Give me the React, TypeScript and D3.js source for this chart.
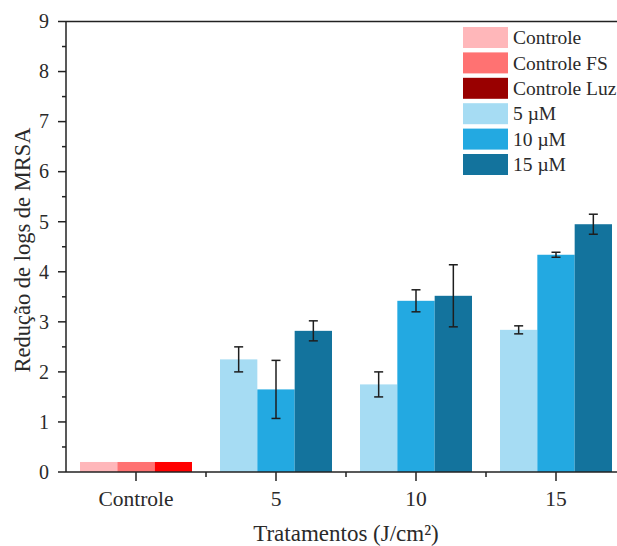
import React from "react";
import * as d3 from "d3";

// Treatment groups along the x axis
const categories = ["Controle", "5", "10", "15"];

// Control group bars (single group, three controls)
const controlNames = ["Controle", "Controle FS", "Controle Luz"];
const controlValues = [0.2, 0.2, 0.2];
const controlBarColors = ["#FFB7BA", "#FF7272", "#FF0000"];
const controlLegendColors = ["#FFB7BA", "#FF7272", "#990000"];

// Concentration series for the light-dose groups (5, 10, 15 J/cm²)
const concNames = ["5 µM", "10 µM", "15 µM"];
const concColors = ["#A6DCF3", "#23A9E1", "#13739D"];
const mean5uM = [2.25, 1.75, 2.84];
const mean10uM = [1.65, 3.42, 4.34];
const mean15uM = [2.82, 3.52, 4.95];
const err5uM = [0.25, 0.25, 0.08];
const err10uM = [0.58, 0.22, 0.05];
const err15uM = [0.2, 0.62, 0.2];

const yTicks = [0, 1, 2, 3, 4, 5, 6, 7, 8, 9];

const W = 617;
const H = 546;
const left = 66;
const top = 21.5;
const bottom = 472;
const step = 140;

const textColor = "#2a2a2a";
const axisColor = "#222";
const font = "Liberation Serif, Times New Roman, serif";
const textStyle = { fontFamily: font };

export default function App() {
  const x = d3
    .scaleBand<string>()
    .domain(categories)
    .range([left, left + step * categories.length])
    .paddingInner(0.2)
    .paddingOuter(0.1);
  const y = d3.scaleLinear().domain([0, 9]).range([bottom, top]);
  const sub = d3
    .scaleBand<number>()
    .domain([0, 1, 2])
    .range([0, x.bandwidth()]);

  const concMeans = [mean5uM, mean10uM, mean15uM];
  const concErrs = [err5uM, err10uM, err15uM];
  const doseCats = categories.slice(1);

  const minorY = d3.range(0.5, 9, 1);
  const minorX = categories.slice(1).map((c) => (x(c) as number) - (step * 0.2) / 2);

  const legendItems = [
    ...controlNames.map((n, i) => ({ name: n, color: controlLegendColors[i] })),
    ...concNames.map((n, i) => ({ name: n, color: concColors[i] })),
  ];

  return (
    <svg
      width={W}
      height={H}
      style={{ position: "absolute", left: 0, top: 0, background: "#fff" }}
    >
      <rect width={W} height={H} fill="#fff" />

      {/* control bars */}
      {controlValues.map((v, i) => (
        <rect
          key={"c" + i}
          x={(x("Controle") as number) + (sub(i) as number)}
          y={y(v)}
          width={sub.bandwidth()}
          height={y(0) - y(v)}
          fill={controlBarColors[i]}
        />
      ))}

      {/* concentration bars */}
      {doseCats.map((c, gi) =>
        concMeans.map((series, si) => {
          const v = series[gi];
          return (
            <rect
              key={c + "-" + si}
              x={(x(c) as number) + (sub(si) as number)}
              y={y(v)}
              width={sub.bandwidth()}
              height={y(0) - y(v)}
              fill={concColors[si]}
            />
          );
        })
      )}

      {/* error bars */}
      {doseCats.map((c, gi) =>
        concMeans.map((series, si) => {
          const v = series[gi];
          const e = concErrs[si][gi];
          const cx = (x(c) as number) + (sub(si) as number) + sub.bandwidth() / 2;
          const y1 = y(v + e);
          const y2 = y(v - e);
          return (
            <g key={"e" + c + si} stroke="#1e1e1e" strokeWidth={1.5}>
              <line x1={cx} x2={cx} y1={y1} y2={y2} />
              <line x1={cx - 4.5} x2={cx + 4.5} y1={y1} y2={y1} />
              <line x1={cx - 4.5} x2={cx + 4.5} y1={y2} y2={y2} />
            </g>
          );
        })
      )}

      {/* frame lines */}
      <line x1={left} x2={W} y1={top} y2={top} stroke={axisColor} strokeWidth={1.5} />
      <line x1={left} x2={W} y1={bottom} y2={bottom} stroke={axisColor} strokeWidth={1.5} />
      <line x1={left} x2={left} y1={top} y2={bottom} stroke={axisColor} strokeWidth={1.5} />

      {/* y ticks */}
      {yTicks.map((t) => (
        <g key={"yt" + t}>
          <line x1={left - 8} x2={left} y1={y(t)} y2={y(t)} stroke={axisColor} strokeWidth={1.5} />
          <text
            x={49}
            y={y(t)}
            dy="0.34em"
            textAnchor="end"
            fontSize={20}
            fill={textColor}
            style={textStyle}
          >
            {t}
          </text>
        </g>
      ))}
      {minorY.map((t) => (
        <line
          key={"my" + t}
          x1={left - 4}
          x2={left}
          y1={y(t)}
          y2={y(t)}
          stroke={axisColor}
          strokeWidth={1.5}
        />
      ))}

      {/* x ticks */}
      {categories.map((c) => {
        const cx = (x(c) as number) + x.bandwidth() / 2;
        return (
          <g key={"xt" + c}>
            <line x1={cx} x2={cx} y1={bottom} y2={bottom + 9} stroke={axisColor} strokeWidth={1.5} />
            <text x={cx} y={506} textAnchor="middle" fontSize={21.5} fill={textColor} style={textStyle}>
              {c}
            </text>
          </g>
        );
      })}
      {minorX.map((mx, i) => (
        <line key={"mx" + i} x1={mx} x2={mx} y1={bottom} y2={bottom + 5} stroke={axisColor} strokeWidth={1.5} />
      ))}

      {/* axis titles */}
      <text x={346} y={541} textAnchor="middle" fontSize={23} fill={textColor} style={textStyle}>
        Tratamentos (J/cm²)
      </text>
      <text
        transform={`translate(30, 250) rotate(-90)`}
        textAnchor="middle"
        fontSize={22.5}
        fill={textColor}
        style={textStyle}
      >
        Redução de logs de MRSA
      </text>

      {/* legend */}
      {legendItems.map((item, i) => {
        const ly = 27 + i * 25.4;
        return (
          <g key={"lg" + i}>
            <rect x={463} y={ly} width={45} height={21} fill={item.color} />
            <text x={513} y={ly + 10.5} dy="0.34em" fontSize={19.5} fill={textColor} style={textStyle}>
              {item.name}
            </text>
          </g>
        );
      })}
    </svg>
  );
}
